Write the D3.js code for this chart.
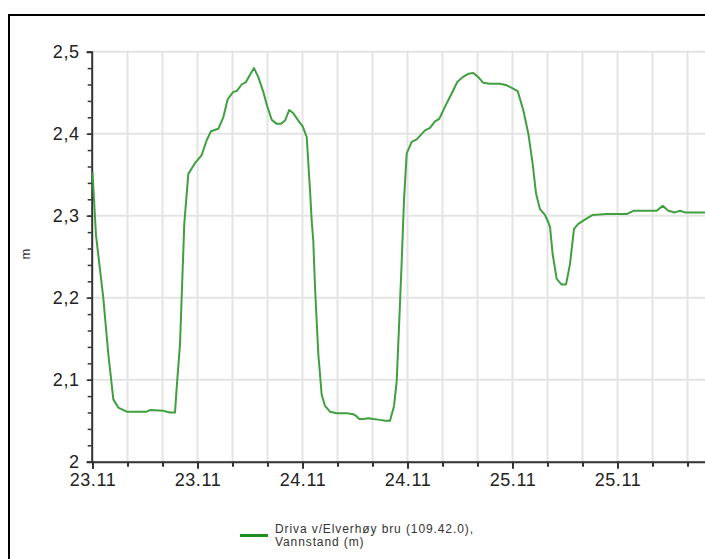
<!DOCTYPE html>
<html>
<head>
<meta charset="utf-8">
<script src="https://cdn.jsdelivr.net/npm/d3@7"></script>
<style>
  html, body { margin: 0; padding: 0; background: #fff; overflow: hidden; }
  svg { display: block; font-family: "Liberation Sans", Arial, sans-serif; }
</style>
</head>
<body>
<svg id="chart" width="705" height="559"></svg>
<script>
// Hours since 23.11 00:00
const hours = [0, 0.4, 1.23, 1.81, 2.38, 2.95, 3.91, 6.19, 6.57, 8.09, 8.86, 9.43, 9.62, 10.0, 10.19, 10.49, 10.95,
  11.71, 12.48, 13.05, 13.54, 14.38, 14.95, 15.45, 16.09, 16.48, 17.05, 17.54, 18.0, 18.46, 18.95, 19.52, 19.98,
  20.48, 21.05, 21.54, 22.0, 22.49, 22.95, 23.52, 24.02, 24.48, 24.86, 25.05, 25.23, 25.43, 25.81, 26.19, 26.57,
  27.14, 27.91, 29.05, 29.81, 30.11, 30.49, 30.95, 31.52, 32.09, 32.86, 33.43, 34.0, 34.46, 34.77, 35.06, 35.34,
  35.6, 35.91, 36.48, 37.05, 38.0, 38.57, 39.14, 39.63, 40.29, 41.05, 41.69, 42.31, 42.95, 43.52, 44.09, 44.66,
  45.43, 46.57, 47.34, 47.91, 48.59, 49.23, 49.81, 50.31, 50.69, 51.14, 51.71, 52.09, 52.29, 52.59, 53.05, 53.62,
  54.11, 54.57, 55.03, 55.52, 56.09, 56.4, 57.17, 58.77, 61.05, 61.81, 64.48, 65.17, 65.81, 66.57, 67.14, 67.71,
  70.0, 72.0];
const waterLevel = [2.353, 2.276, 2.2, 2.131, 2.076, 2.066, 2.061, 2.061, 2.063, 2.062, 2.060, 2.060, 2.090, 2.143,
  2.2, 2.29, 2.351, 2.364, 2.374, 2.392, 2.403, 2.406, 2.420, 2.442, 2.451, 2.452, 2.460, 2.463, 2.472, 2.480, 2.469,
  2.451, 2.433, 2.417, 2.412, 2.412, 2.416, 2.429, 2.425, 2.416, 2.409, 2.396, 2.331, 2.294, 2.27, 2.213, 2.131,
  2.082, 2.068, 2.061, 2.059, 2.059, 2.058, 2.056, 2.052, 2.052, 2.053, 2.052, 2.051, 2.050, 2.050, 2.068, 2.099,
  2.172, 2.245, 2.319, 2.376, 2.390, 2.393, 2.404, 2.407, 2.415, 2.418, 2.433, 2.449, 2.463, 2.469, 2.473, 2.474,
  2.469, 2.462, 2.461, 2.461, 2.459, 2.456, 2.452, 2.429, 2.400, 2.363, 2.327, 2.308, 2.301, 2.292, 2.286, 2.253,
  2.223, 2.216, 2.216, 2.241, 2.284, 2.290, 2.294, 2.296, 2.301, 2.302, 2.302, 2.306, 2.306, 2.312, 2.306, 2.304,
  2.306, 2.304, 2.304, 2.304];

const xMajorTicks = [0, 12, 24, 36, 48, 60];
const xTickLabels = ["23.11", "23.11", "24.11", "24.11", "25.11", "25.11"];
const xMinorTicks = d3.range(0, 73, 4);
const yMajorTicks = [2.0, 2.1, 2.2, 2.3, 2.4, 2.5];
const yTickLabels = ["2", "2,1", "2,2", "2,3", "2,4", "2,5"];
const yMinorTicks = d3.range(0, 26).map(i => +(2 + i * 0.02).toFixed(2));
const yAxisTitle = "m";
const legendLines = ["Driva v/Elverhøy bru (109.42.0),", "Vannstand (m)"];

const lineColor = "#40a040";
const gridColor = "#e4e4e4";
const axisColor = "#333";

const svg = d3.select("#chart");

// Frame
svg.append("rect").attr("x", 9).attr("y", 15).attr("width", 800).attr("height", 700)
  .attr("fill", "#fff").attr("stroke", "#000").attr("stroke-width", 2);

const x = d3.scaleLinear().domain([0, 72]).range([92.5, 92.5 + 8.75 * 72]);
const y = d3.scaleLinear().domain([2.0, 2.5]).range([461.7, 51.7]);

// Grid
const grid = svg.append("g");
grid.selectAll("line.h").data(yMajorTicks).join("line")
  .attr("x1", x(0)).attr("x2", x(72)).attr("y1", d => y(d)).attr("y2", d => y(d))
  .attr("stroke", gridColor).attr("stroke-width", 2);
grid.selectAll("line.v").data(xMinorTicks.filter(d => d > 0)).join("line")
  .attr("x1", d => x(d)).attr("x2", d => x(d)).attr("y1", y(2.5) - 1).attr("y2", y(2.0))
  .attr("stroke", gridColor).attr("stroke-width", 2);

// Y axis minor ticks
const yMinorAxis = d3.axisLeft(y).tickValues(yMinorTicks).tickSize(4).tickFormat("");
svg.append("g").attr("transform", `translate(${x(0) - 0.8},0)`).call(yMinorAxis)
  .call(g => g.select(".domain").remove())
  .call(g => g.selectAll("line").attr("stroke", axisColor).attr("stroke-width", 1.5));

// Y axis major
const yAxis = d3.axisLeft(y).tickValues(yMajorTicks).tickSize(5).tickPadding(7)
  .tickFormat((d, i) => yTickLabels[i]);
svg.append("g").attr("transform", `translate(${x(0) - 0.8},0)`).call(yAxis)
  .call(g => g.select(".domain").attr("stroke", axisColor).attr("stroke-width", 2))
  .call(g => g.selectAll("line").attr("stroke", axisColor).attr("stroke-width", 1.5))
  .call(g => g.selectAll("text").attr("font-size", 18).attr("fill", "#222")
    .attr("letter-spacing", 0.6).attr("font-family", "'Liberation Sans', Arial, sans-serif"));

// X axis minor ticks
const xMinorAxis = d3.axisBottom(x).tickValues(xMinorTicks).tickSize(5).tickFormat("");
svg.append("g").attr("transform", `translate(0,${y(2.0)})`).call(xMinorAxis)
  .call(g => g.select(".domain").remove())
  .call(g => g.selectAll("line").attr("stroke", axisColor).attr("stroke-width", 2));

// X axis major
const xAxis = d3.axisBottom(x).tickValues(xMajorTicks).tickSize(7).tickPadding(5)
  .tickFormat((d, i) => xTickLabels[i]);
svg.append("g").attr("transform", `translate(0,${y(2.0)})`).call(xAxis)
  .call(g => g.select(".domain").attr("stroke", axisColor).attr("stroke-width", 2))
  .call(g => g.selectAll("line").attr("stroke", axisColor).attr("stroke-width", 2))
  .call(g => g.selectAll("text").attr("font-size", 18).attr("fill", "#222")
    .attr("letter-spacing", 0.6).attr("font-family", "'Liberation Sans', Arial, sans-serif"));

// Y axis title
svg.append("text").attr("transform", "translate(30,254) rotate(-90)")
  .attr("text-anchor", "middle").attr("font-size", 13).attr("fill", "#333").text(yAxisTitle);

// Data line
const line = d3.line().x((d, i) => x(hours[i])).y(d => y(d));
svg.append("path").datum(waterLevel).attr("d", line)
  .attr("fill", "none").attr("stroke", lineColor).attr("stroke-width", 2)
  .attr("stroke-linejoin", "round");

// Legend
const lg = svg.append("g");
lg.append("line").attr("x1", 240).attr("x2", 268).attr("y1", 535.5).attr("y2", 535.5)
  .attr("stroke", "#1f8f1f").attr("stroke-width", 3);
lg.selectAll("text").data(legendLines).join("text")
  .attr("x", 275).attr("y", (d, i) => 533 + i * 12.5)
  .attr("font-size", 12).attr("fill", "#333").attr("letter-spacing", 0.9)
  .text(d => d);
</script>
</body>
</html>
